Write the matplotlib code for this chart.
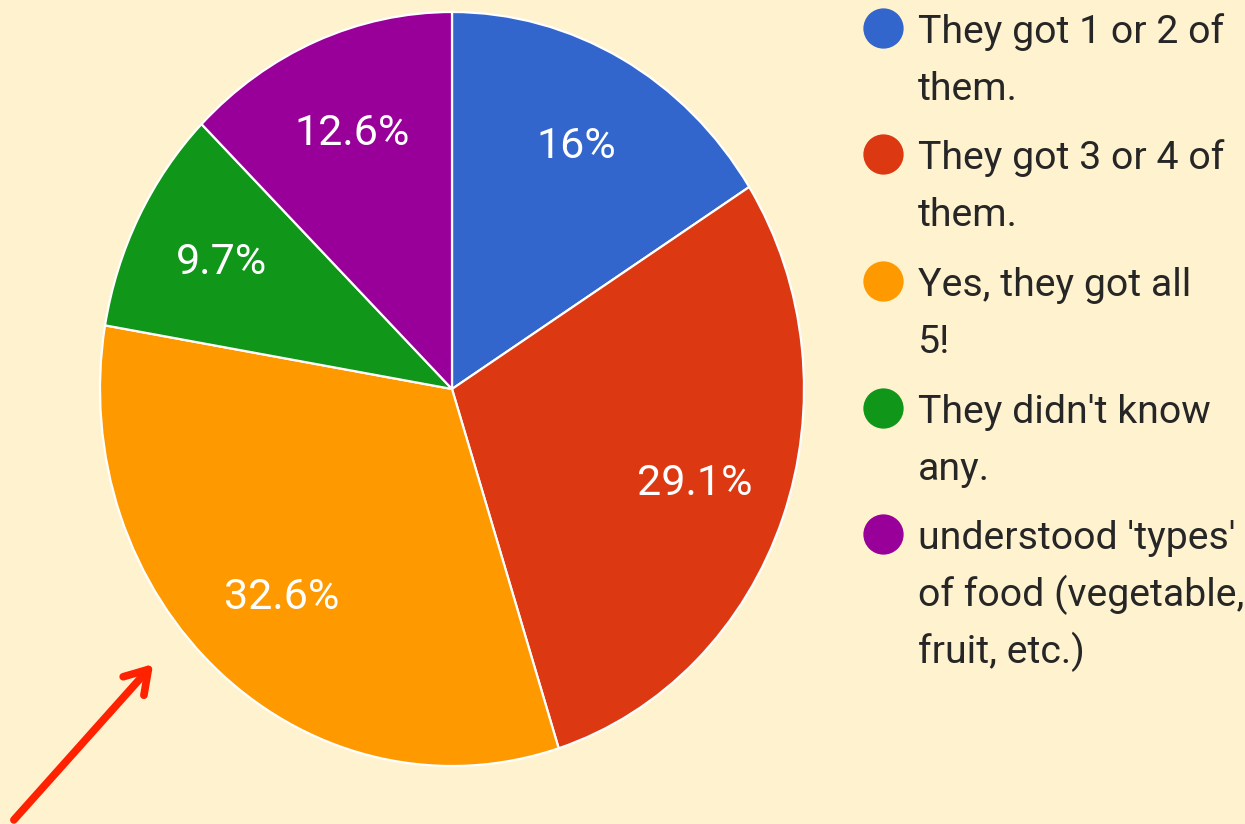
import matplotlib
matplotlib.use("Agg")
import matplotlib.pyplot as plt
from matplotlib.lines import Line2D
from matplotlib.patches import FancyArrowPatch
import numpy as np

categories = [
    "They got 1 or 2 of\nthem.",
    "They got 3 or 4 of\nthem.",
    "Yes, they got all\n5!",
    "They didn't know\nany.",
    "understood 'types'\nof food (vegetable,\nfruit, etc.)",
]
values = [16.0, 29.1, 32.6, 9.7, 12.6]
pct_labels = ["16%", "29.1%", "32.6%", "9.7%", "12.6%"]
colors = ["#3366CC", "#DC3912", "#FF9900", "#109618", "#990099"]

BG = "#FFF2CF"
W, H = 1245, 824
FONT = "Roboto"

fig = plt.figure(figsize=(W / 100, H / 100), dpi=100, facecolor=BG)

# pie axes (pixel extents from reference)
px_l, px_r, px_t, px_b = 100, 804, 12, 766
ax = fig.add_axes([px_l / W, 1 - px_b / H, (px_r - px_l) / W, (px_b - px_t) / H])
ax.set_facecolor(BG)
wedges, texts = ax.pie(
    values,
    colors=colors,
    startangle=90,
    counterclock=False,
    wedgeprops=dict(edgecolor="white", linewidth=1.6),
)
ax.set_aspect("auto")
ax.set_xlim(-1, 1)
ax.set_ylim(-1, 1)
ax.axis("off")

total = sum(values)
cum = 0.0
for v, lab in zip(values, pct_labels):
    mid = (cum + v / 2) / total * 360.0
    cum += v
    theta = np.deg2rad(90 - mid)
    r = 0.735
    ax.text(r * np.cos(theta), r * np.sin(theta), lab, ha="center", va="center",
            color="white", fontsize=31, family=FONT)

# legend drawn manually
leg_y = [28, 154, 281, 408, 534]
line_h = 57
for y0, lab, c in zip(leg_y, categories, colors):
    fig.add_artist(Line2D([883 / W], [1 - y0 / H], marker="o", markersize=29,
                          color=c, markeredgewidth=0, transform=fig.transFigure))
    for i, line in enumerate(lab.split("\n")):
        base = y0 + 15 + i * line_h
        fig.text(918 / W, 1 - base / H, line, ha="left", va="baseline",
                 fontsize=28.3, family=FONT, color="#262626")

# red arrow
fig.add_artist(FancyArrowPatch(
    (12 / W, 1 - 822 / H), (155 / W, 1 - 662 / H), transform=fig.transFigure,
    arrowstyle="->,head_length=8,head_width=5", color="#FF2200", linewidth=5.5,
    mutation_scale=2, capstyle="round", joinstyle="round"))

fig.savefig("out.png", dpi=100, facecolor=BG)
